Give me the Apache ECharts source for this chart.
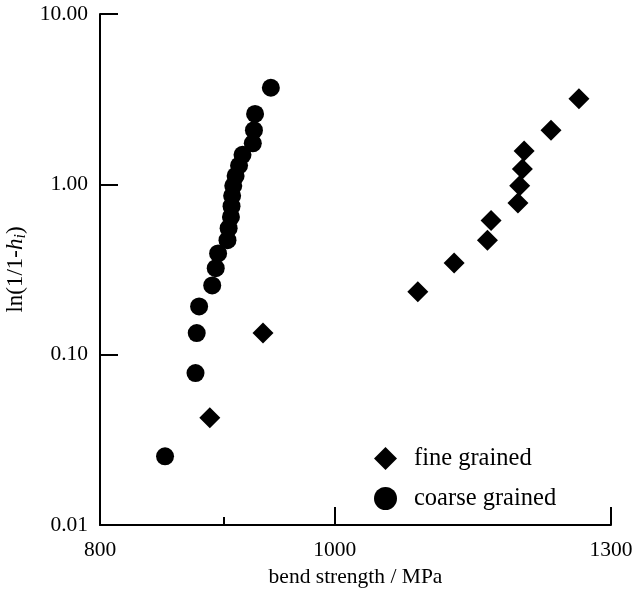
<!DOCTYPE html>
<html><head><meta charset="utf-8">
<script src="https://cdn.jsdelivr.net/npm/echarts@6/dist/echarts.min.js"></script>
<style>html,body{margin:0;padding:0;background:#fff}#c{width:636px;height:605px}</style>
</head><body><div id="c"></div>
<script>
const fineStrength = [888, 934, 1082, 1120, 1156, 1160, 1190, 1192, 1195, 1197, 1228, 1261];
const fineLnH = [0.0426, 0.134, 0.234, 0.345, 0.470, 0.613, 0.778, 0.981, 1.23, 1.57, 2.08, 3.18];
const coarseStrength = [851, 876, 877, 879, 890, 893, 895, 903, 904, 906, 906.5, 907, 908, 910, 913, 916, 925, 926, 927, 941];
const coarseLnH = [0.0253, 0.078, 0.134, 0.192, 0.255, 0.322, 0.393, 0.470, 0.553, 0.644, 0.744, 0.856, 0.981, 1.12, 1.29, 1.49, 1.74, 2.08, 2.59, 3.69];
const xLabelValues = [800, 1000, 1300];
const xMajorTicks = [1000, 1300];
const xMinorTicks = [900];
const seriesNames = ['fine grained', 'coarse grained'];

const FONT = 'Liberation Serif';
const zip = (a, b) => a.map((v, i) => [v, b[i]]);
const chart = echarts.init(document.getElementById('c'));
const baseX = {
  type: 'log', logBase: 10, min: 800, max: 1300, position: 'bottom',
  splitLine: {show: false}, gridIndex: 0
};
chart.setOption({
  animation: false,
  backgroundColor: '#fff',
  textStyle: {fontFamily: FONT, color: '#000'},
  grid: {left: 100, right: 25, top: 14, bottom: 80, containLabel: false, outerBoundsMode: 'none'},
  legend: {
    orient: 'vertical', left: 369, top: 441, itemGap: 15,
    itemWidth: 23, itemHeight: 23,
    textStyle: {fontFamily: FONT, fontSize: 24.5, color: '#000', padding: [0, 0, 0, 12]},
    data: [{name: seriesNames[0], icon: 'diamond'}, {name: seriesNames[1], icon: 'circle'}]
  },
  xAxis: [
    Object.assign({}, baseX, {
      name: 'bend strength / MPa', nameLocation: 'middle', nameGap: 32,
      nameTextStyle: {fontFamily: FONT, fontSize: 21.5, color: '#000'},
      axisLine: {show: true, lineStyle: {color: '#000', width: 2}},
      axisTick: {show: true, inside: true, length: 18, lineStyle: {color: '#000', width: 2}, customValues: xMajorTicks},
      axisLabel: {show: true, margin: 14, fontFamily: FONT, fontSize: 21.5, color: '#000', customValues: xLabelValues,
        formatter: v => String(Math.round(v))}
    }),
    Object.assign({}, baseX, {
      axisLine: {show: false},
      axisTick: {show: true, inside: true, length: 8, lineStyle: {color: '#000', width: 2}, customValues: xMinorTicks},
      axisLabel: {show: false}
    })
  ],
  yAxis: {
    type: 'log', logBase: 10, min: 0.01, max: 10,
    name: '{a|ln(1/1-}{b|h}{c|i}{a|)}', nameLocation: 'middle', nameGap: 62, nameRotate: 90,
    nameTextStyle: {
      rich: {
        a: {fontFamily: FONT, fontSize: 23, color: '#000'},
        b: {fontFamily: FONT, fontSize: 23, fontStyle: 'italic', color: '#000'},
        c: {fontFamily: FONT, fontSize: 16, fontStyle: 'italic', color: '#000', padding: [10, 0, 0, 0]}
      }
    },
    splitLine: {show: false},
    axisLine: {show: true, lineStyle: {color: '#000', width: 2}},
    axisTick: {show: true, inside: true, length: 18, lineStyle: {color: '#000', width: 2}},
    axisLabel: {margin: 12, fontFamily: FONT, fontSize: 21.5, color: '#000', formatter: v => Number(v).toFixed(2)}
  },
  series: [
    {name: seriesNames[0], type: 'scatter', symbol: 'diamond', symbolSize: 21,
      itemStyle: {color: '#000', opacity: 1}, data: zip(fineStrength, fineLnH)},
    {name: seriesNames[1], type: 'scatter', symbol: 'circle', symbolSize: 18,
      itemStyle: {color: '#000', opacity: 1}, data: zip(coarseStrength, coarseLnH)}
  ]
});
</script></body></html>
